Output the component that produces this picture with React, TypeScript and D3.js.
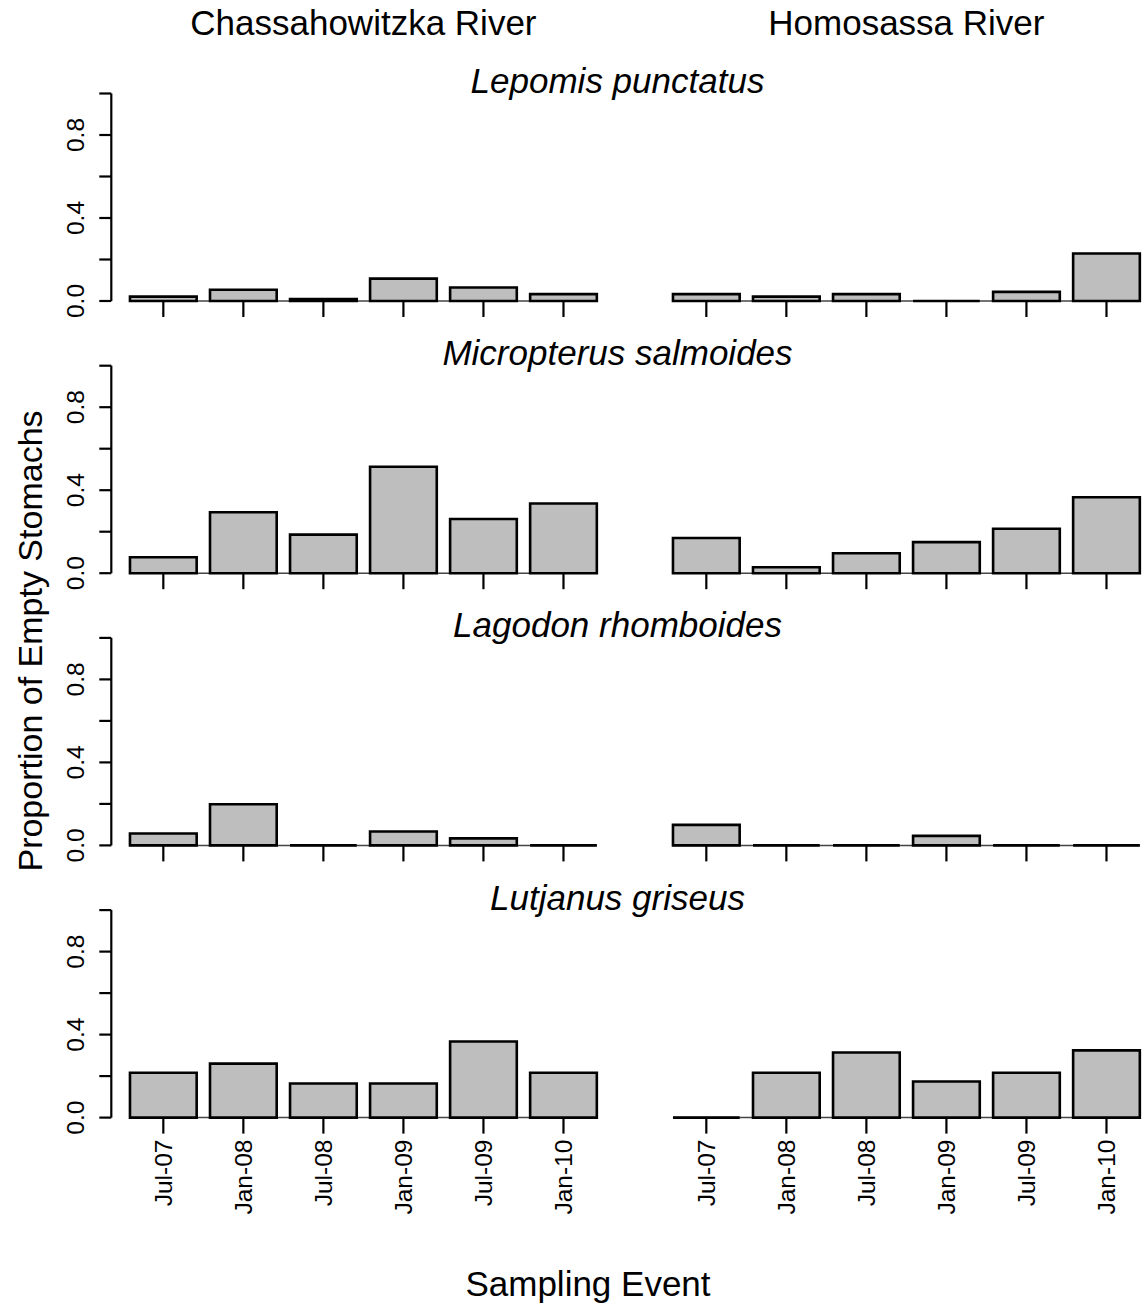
import React from "react";
import * as d3 from "d3";

// Sampling events (x categories) and panel labels
const events = ["Jul-07", "Jan-08", "Jul-08", "Jan-09", "Jul-09", "Jan-10"];
const rivers = ["Chassahowitzka River", "Homosassa River"];
const species = [
  "Lepomis punctatus",
  "Micropterus salmoides",
  "Lagodon rhomboides",
  "Lutjanus griseus",
];

// Proportion of empty stomachs, one array per species and river
const lepomisChass = [0.021, 0.054, 0.01, 0.108, 0.065, 0.033];
const lepomisHomo = [0.033, 0.021, 0.033, 0.0, 0.044, 0.229];
const micropterusChass = [0.077, 0.294, 0.186, 0.513, 0.261, 0.336];
const micropterusHomo = [0.17, 0.029, 0.096, 0.15, 0.214, 0.366];
const lagodonChass = [0.057, 0.198, 0.0, 0.067, 0.034, 0.0];
const lagodonHomo = [0.099, 0.0, 0.0, 0.046, 0.0, 0.0];
const lutjanusChass = [0.216, 0.26, 0.164, 0.164, 0.367, 0.216];
const lutjanusHomo = [0.0, 0.216, 0.314, 0.174, 0.216, 0.324];

const yTicks = [0, 0.2, 0.4, 0.6, 0.8, 1.0];
const yTickLabels = [0, 0.4, 0.8];

const panels = [
  [lepomisChass, lepomisHomo],
  [micropterusChass, micropterusHomo],
  [lagodonChass, lagodonHomo],
  [lutjanusChass, lutjanusHomo],
];

const W = 1143;
const H = 1310;
const FONT = "'Liberation Sans', Arial, Helvetica, sans-serif";

// Layout of the panel grid
const colLeft = [111.3, 654.3];
const colWidth = 504.2;
const rowBase0 = 301;
const rowStep = 272.2;
const unitPx = 207.5;

export default function App() {
  const fmt = d3.format(".1f");

  const rowScale = (r: number) => {
    const base = rowBase0 + rowStep * r;
    return d3
      .scaleLinear()
      .domain([-0.04, 1.04])
      .range([base + 0.04 * unitPx, base - 1.04 * unitPx]);
  };

  const colScale = (c: number) =>
    d3
      .scaleBand<string>()
      .domain(events)
      .range([colLeft[c], colLeft[c] + colWidth])
      .paddingInner(1 / 6)
      .paddingOuter(0.2333);

  // closed outline so that zero-height bars still show their border
  const barPath = (x0: number, y0: number, w: number, h: number) => {
    const p = d3.path();
    p.moveTo(x0, y0);
    p.lineTo(x0 + w, y0);
    p.lineTo(x0 + w, y0 + h);
    p.lineTo(x0, y0 + h);
    p.closePath();
    return p.toString();
  };

  return (
    <svg
      width={W}
      height={H}
      viewBox={`0 0 ${W} ${H}`}
      style={{ position: "absolute", left: 0, top: 0, background: "#fff" }}
      fontFamily={FONT}
    >
      <rect x={0} y={0} width={W} height={H} fill="#fff" />

      {/* River headings */}
      {rivers.map((name, c) => {
        const x = colScale(c);
        const r = x.range();
        return (
          <text
            key={name}
            x={(r[0] + r[1]) / 2}
            y={35}
            fontSize={35}
            textAnchor="middle"
            fill="#000"
          >
            {name}
          </text>
        );
      })}

      {panels.map((pair, r) => {
        const y = rowScale(r);
        return (
          <g key={species[r]}>
            <text
              x={617.5}
              y={y(1) - 0.5}
              fontSize={35}
              fontStyle="italic"
              textAnchor="middle"
              fill="#000"
            >
              {species[r]}
            </text>

            {/* y axis on the left column */}
            <line
              x1={colLeft[0]}
              x2={colLeft[0]}
              y1={y(0)}
              y2={y(1)}
              stroke="#000"
              strokeWidth={2.2}
            />
            {yTicks.map((t) => (
              <line
                key={t}
                x1={colLeft[0] - 12}
                x2={colLeft[0]}
                y1={y(t)}
                y2={y(t)}
                stroke="#000"
                strokeWidth={2.2}
              />
            ))}
            {yTickLabels.map((t) => (
              <text
                key={t}
                transform={`translate(84,${y(t)}) rotate(-90)`}
                fontSize={24.5}
                textAnchor="middle"
                fill="#000"
              >
                {fmt(t)}
              </text>
            ))}

            {pair.map((vals, c) => {
              const x = colScale(c);
              const first = x(events[0]) as number;
              const last = (x(events[events.length - 1]) as number) + x.bandwidth();
              return (
                <g key={c}>
                  <line
                    x1={first}
                    x2={last}
                    y1={y(0)}
                    y2={y(0)}
                    stroke="#444"
                    strokeWidth={1.5}
                  />
                  {vals.map((v, i) => {
                    const bx = x(events[i]) as number;
                    return (
                      <path
                        key={i}
                        d={barPath(bx, y(v), x.bandwidth(), Math.max(0, y(0) - y(v)))}
                        fill="#bebebe"
                        stroke="#000"
                        strokeWidth={2.6}
                      />
                    );
                  })}
                  {events.map((e) => {
                    const cx = (x(e) as number) + x.bandwidth() / 2;
                    return (
                      <line
                        key={e}
                        x1={cx}
                        x2={cx}
                        y1={y(0)}
                        y2={y(0) + 16}
                        stroke="#000"
                        strokeWidth={2.2}
                      />
                    );
                  })}
                  {r === panels.length - 1 &&
                    events.map((e) => {
                      const cx = (x(e) as number) + x.bandwidth() / 2;
                      return (
                        <text
                          key={e}
                          transform={`translate(${cx + 8.5},${y(0) + 22}) rotate(-90)`}
                          fontSize={24.5}
                          textAnchor="end"
                          fill="#000"
                        >
                          {e}
                        </text>
                      );
                    })}
                </g>
              );
            })}
          </g>
        );
      })}

      {/* Axis titles */}
      <text
        transform={`translate(42,641) rotate(-90)`}
        fontSize={34}
        textAnchor="middle"
        fill="#000"
      >
        Proportion of Empty Stomachs
      </text>
      <text x={588} y={1296} fontSize={35} textAnchor="middle" fill="#000">
        Sampling Event
      </text>
    </svg>
  );
}
